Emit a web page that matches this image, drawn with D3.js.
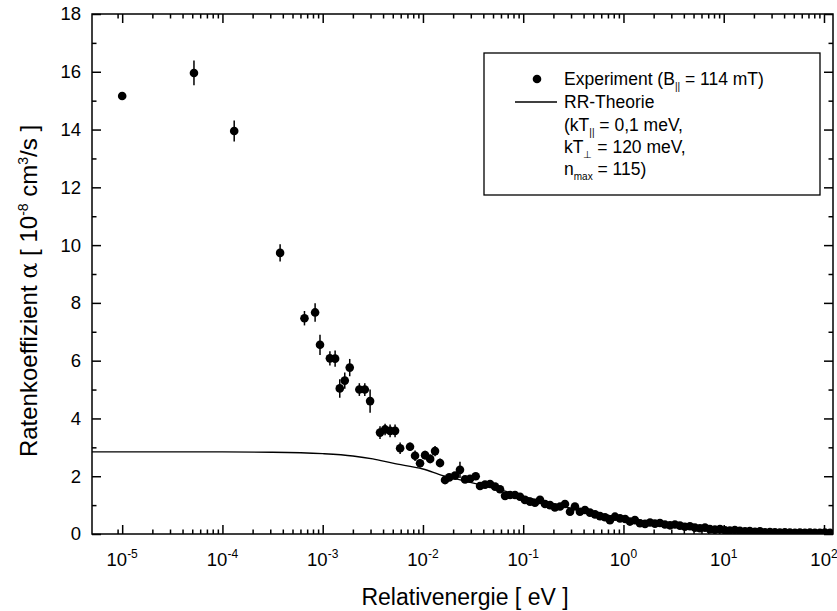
<!DOCTYPE html>
<meta charset="utf-8">
<style>
body{margin:0;background:#fff;}
text{font-family:"Liberation Sans",Arial,sans-serif;fill:#000;}
.axis path{display:none;}
.axis line{stroke:#000;stroke-width:1.5px;}
.frame{fill:none;stroke:#000;stroke-width:1.5px;}
.err{stroke:#000;stroke-width:1.5px;}
.theory{fill:none;stroke:#000;stroke-width:1.3px;}
</style>
<body>
<script src="https://d3js.org/d3.v7.min.js"></script>
<script>

// experiment: relative energy [eV], rate coefficient [1e-8 cm^3/s], error
var energy=[1e-5,5.2e-5,1.31e-4,3.76e-4,6.58e-4,8.4e-4,9.4e-4,1.18e-3,1.33e-3,1.48e-3,
	1.66e-3,1.86e-3,2.32e-3,2.63e-3,2.97e-3,3.73e-3,4.19e-3,4.7e-3,5.27e-3,5.92e-3,
	7.43e-3,8.34e-3,9.35e-3,0.0105,0.0118,0.0132,0.0148,0.0166,0.0183,0.0209,
	0.0234,0.0263,0.0295,0.0336,0.0371,0.0416,0.0467,0.0524,0.0587,0.0659,
	0.0738,0.0828,0.0929,0.104,0.117,0.131,0.147,0.165,0.185,0.207,
	0.233,0.261,0.293,0.328,0.368,0.413,0.463,0.520,0.583,0.654,
	0.733,0.823,0.923,1.04,1.16,1.30,1.46,1.64,1.84,2.06,
	2.31,2.59,2.91,3.26,3.66,4.10,4.60,5.16,5.79,6.50,
	7.28,8.17,9.17,10.3,11.5,12.9,14.5,16.3,18.2,20.5,
	23.0,25.8,28.9,32.4,36.3,40.7,45.7,51.3,57.5,64.5,
	72.4,81.1,91.0,102,115];
var alpha=[15.16,15.96,13.95,9.73,7.47,7.67,6.55,6.08,6.07,5.04,
	5.31,5.76,5.0,5.0,4.6,3.51,3.62,3.57,3.57,2.97,
	3.02,2.71,2.45,2.73,2.60,2.87,2.46,1.87,1.96,2.02,
	2.22,1.89,1.91,2.0,1.66,1.71,1.73,1.64,1.55,1.32,
	1.35,1.35,1.29,1.18,1.12,1.08,1.18,1.04,1.0,0.92,
	0.95,1.04,0.77,0.95,0.77,0.83,0.74,0.68,0.62,0.58,
	0.48,0.60,0.54,0.52,0.43,0.48,0.37,0.35,0.40,0.36,
	0.38,0.33,0.30,0.33,0.29,0.25,0.27,0.22,0.20,0.22,
	0.17,0.15,0.17,0.13,0.12,0.14,0.11,0.09,0.10,0.08,
	0.09,0.06,0.07,0.06,0.05,0.06,0.05,0.04,0.05,0.04,
	0.05,0.04,0.04,0.05,0.04];
var alphaErr=[0.1,0.43,0.36,0.3,0.25,0.32,0.35,0.25,0.28,0.32,
	0.28,0.3,0.22,0.22,0.4,0.22,0.2,0.22,0.22,0.2,
	0.15,0.18,0.15,0.15,0.15,0.18,0.15,0.15,0.12,0.12,
	0.28,0.1,0.1,0.1,0.08,0.08,0.08,0.07,0.07,0.07,
	0.07,0.06,0.06,0.06,0.06,0.06,0.06,0.05,0.05,0.05,
	0.05,0.05,0.05,0.05,0.05,0.05,0.04,0.04,0.04,0.04,
	0.04,0.04,0.04,0.04,0.04,0.04,0.03,0.03,0.03,0.03,
	0.03,0.03,0.03,0.03,0.03,0.03,0.03,0.03,0.03,0.03,
	0.03,0.03,0.03,0.03,0.03,0.03,0.03,0.03,0.03,0.03,
	0.03,0.03,0.03,0.03,0.03,0.03,0.03,0.03,0.03,0.03,
	0.03,0.03,0.03,0.03,0.03];

// RR theory curve
var theoryEnergy=[5e-6,1e-4,3.16e-4,1e-3,2e-3,3.16e-3,5e-3,0.01,0.0158,0.0251,
	0.0398,0.0631,0.1,0.2,0.398,1,3.16,10,31.6,100,123];
var theoryAlpha=[2.84,2.84,2.83,2.78,2.70,2.60,2.45,2.25,2.02,1.85,
	1.68,1.50,1.30,1.03,0.80,0.56,0.33,0.17,0.08,0.04,0.035];

var decades=[1e-5,1e-4,1e-3,1e-2,1e-1,1,10,100];
var decadeExp=["-5","-4","-3","-2","-1","0","1","2"];
var yTicks=[0,2,4,6,8,10,12,14,16,18];

var W=837,H=611;
var svg=d3.select("body").append("svg").attr("width",W).attr("height",H);

var x=d3.scaleLog().domain([5e-6,123]).range([92,833]);
var y=d3.scaleLinear().domain([0,18]).range([534,14]);

var minorX=[];
[-6,-5,-4,-3,-2,-1,0,1,2].forEach(function(k){
	for(var m=2;m<=9;m++){
		var v=m*Math.pow(10,k);
		if(v>=9e-6&&v<=123) minorX.push(v);
	}
});
var minorY=d3.range(1,18,2);

svg.append("defs").append("clipPath").attr("id","clip")
	.append("rect").attr("x",92).attr("y",14).attr("width",741).attr("height",520);

// axes: ticks inward on all four sides
svg.append("g").attr("class","axis").attr("transform","translate(0,534)")
	.call(d3.axisBottom(x).tickValues(decades).tickSize(-9).tickFormat(""));
svg.append("g").attr("class","axis").attr("transform","translate(0,534)")
	.call(d3.axisBottom(x).tickValues(minorX).tickSize(-4.5).tickFormat(""));
svg.append("g").attr("class","axis").attr("transform","translate(0,14)")
	.call(d3.axisTop(x).tickValues(decades).tickSize(-9).tickFormat(""));
svg.append("g").attr("class","axis").attr("transform","translate(0,14)")
	.call(d3.axisTop(x).tickValues(minorX).tickSize(-4.5).tickFormat(""));
var yAx=svg.append("g").attr("class","axis").attr("transform","translate(92,0)")
	.call(d3.axisLeft(y).tickValues(yTicks).tickSize(-9).tickPadding(11));
yAx.selectAll("text").style("font-size","18.5px");
svg.append("g").attr("class","axis").attr("transform","translate(92,0)")
	.call(d3.axisLeft(y).tickValues(minorY).tickSize(-4.5).tickFormat(""));
svg.append("g").attr("class","axis").attr("transform","translate(833,0)")
	.call(d3.axisRight(y).tickValues(yTicks).tickSize(-9).tickFormat(""));
svg.append("g").attr("class","axis").attr("transform","translate(833,0)")
	.call(d3.axisRight(y).tickValues(minorY).tickSize(-4.5).tickFormat(""));

svg.append("rect").attr("class","frame").attr("x",92).attr("y",14).attr("width",741).attr("height",520);

// x tick labels 10^n
decades.forEach(function(d,i){
	var t=svg.append("text").attr("x",x(d)).attr("y",566)
		.attr("text-anchor","middle").style("font-size","18.5px");
	t.append("tspan").text("10");
	t.append("tspan").attr("dy",-8).style("font-size","12px").text(decadeExp[i]);
});

var plot=svg.append("g").attr("clip-path","url(#clip)");

var line=d3.line().x(function(d){return x(d[0]);}).y(function(d){return y(d[1]);}).curve(d3.curveMonotoneX);
plot.append("path").attr("class","theory").attr("d",line(d3.zip(theoryEnergy,theoryAlpha)));

var pts=d3.range(energy.length).map(function(i){return {e:energy[i],a:alpha[i],s:alphaErr[i]};});
plot.selectAll(".err").data(pts).enter().append("line").attr("class","err")
	.attr("x1",d=>x(d.e)).attr("x2",d=>x(d.e))
	.attr("y1",d=>y(d.a-d.s)).attr("y2",d=>y(d.a+d.s));
plot.selectAll(".dot").data(pts).enter().append("circle").attr("class","dot")
	.attr("cx",d=>x(d.e)).attr("cy",d=>y(d.a)).attr("r",4.3).attr("fill","#000");

// axis titles
svg.append("text").attr("x",465).attr("y",605).attr("text-anchor","middle")
	.style("font-size","23px").text("Relativenergie [ eV ]");

var yt=svg.append("text").attr("transform","translate(37,291) rotate(-90)")
	.attr("text-anchor","middle").style("font-size","24px");
yt.append("tspan").text("Ratenkoeffizient ");
yt.append("tspan").style("font-family","'DejaVu Serif',serif").text("α");
yt.append("tspan").text(" [ 10");
yt.append("tspan").attr("dy",-9).style("font-size","14px").text("-8");
yt.append("tspan").attr("dy",9).text(" cm");
yt.append("tspan").attr("dy",-9).style("font-size","14px").text("3");
yt.append("tspan").attr("dy",9).text("/s ]");

// legend
var lg=svg.append("g");
lg.append("rect").attr("x",484).attr("y",53).attr("width",336).attr("height",142)
	.attr("fill","#fff").attr("stroke","#000").attr("stroke-width",1.3);
lg.append("circle").attr("cx",537).attr("cy",79).attr("r",4.3).attr("fill","#000");
lg.append("line").attr("x1",515).attr("x2",557).attr("y1",102).attr("y2",102)
	.attr("stroke","#000").attr("stroke-width",1.3);

function sub(t,main,s,after){
	t.append("tspan").text(main);
	t.append("tspan").attr("dy",5).style("font-size","10px").text(s);
	t.append("tspan").attr("dy",-5).text(after);
}
var fs="17.5px";
var t1=lg.append("text").attr("x",564).attr("y",85).style("font-size",fs);
sub(t1,"Experiment (B","||"," = 114 mT)");
lg.append("text").attr("x",564).attr("y",108).style("font-size",fs).text("RR-Theorie");
var t3=lg.append("text").attr("x",564).attr("y",131).style("font-size",fs);
sub(t3,"(kT","||"," = 0,1 meV,");
var t4=lg.append("text").attr("x",564).attr("y",153).style("font-size",fs);
sub(t4,"kT","\u22a5"," = 120 meV,");
var t5=lg.append("text").attr("x",564).attr("y",175).style("font-size",fs);
sub(t5,"n","max"," = 115)");

</script>
</body>
